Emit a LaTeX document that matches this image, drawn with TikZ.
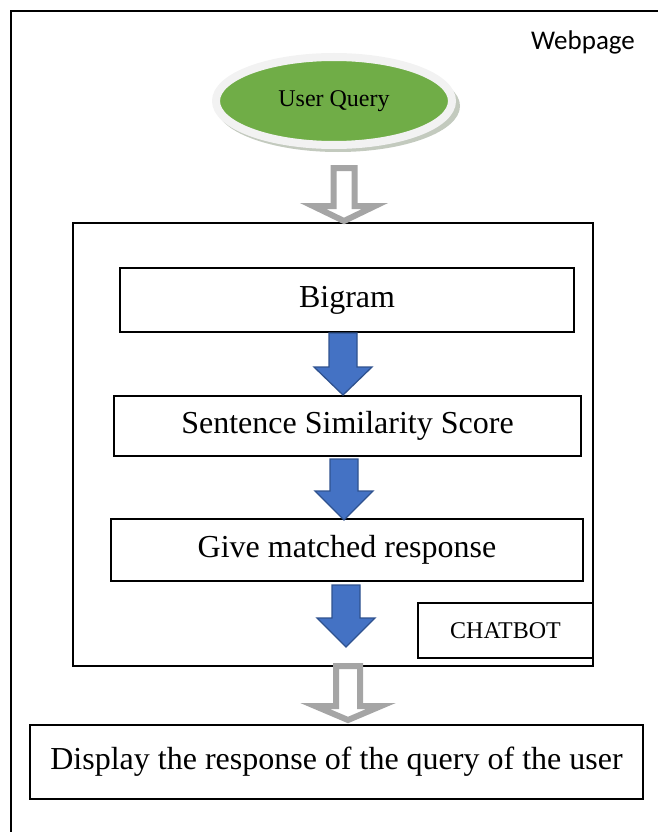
\documentclass[tikz,border=0pt]{standalone}
\usepackage{fontspec}
\setmainfont{Liberation Serif}
\newfontfamily\calibrifont{Carlito}
\usetikzlibrary{shapes.geometric}
\definecolor{qgreen}{HTML}{70AD47}
\definecolor{rimgrey}{HTML}{F2F2F2}
\definecolor{shadowgrey}{HTML}{A9B3A3}
\definecolor{arrowblue}{HTML}{4472C4}
\definecolor{arrowborder}{HTML}{2F528F}
\definecolor{arrowgrey}{HTML}{A5A5A5}
\newcommand\blockdown[7]{\draw[#1] ({#2-#3},#5) -- ({#2+#3},#5) -- ({#2+#3},#6) -- ({#2+#4},#6) -- (#2,#7) -- ({#2-#4},#6) -- ({#2-#3},#6) -- cycle;}
\begin{document}
\begin{tikzpicture}[x=1pt,y=-1pt,
  box/.style={draw, line width=1.8pt, inner sep=0pt, font=\fontsize{32}{38}\selectfont},
  smallbox/.style={draw, line width=1.8pt, inner sep=0pt, font=\fontsize{24}{28}\selectfont},
  bluearrow/.style={fill=arrowblue, draw=arrowborder, line width=1.3pt, line join=miter},
  greyarrow/.style={fill=white, draw=arrowgrey, line width=6pt, line join=miter}]
\useasboundingbox (0,0) rectangle (658,832);
% outer webpage frame
\draw[line width=1.8pt] (11,850) -- (11,11) -- (680,11);
\node[font=\calibrifont\fontsize{27}{32}\selectfont, anchor=base] (web) at (583,50) {Webpage};
% user query ellipse
\fill[shadowgrey, opacity=0.7] (338,106) ellipse [x radius=122pt, y radius=46pt];
\node[ellipse, fill=qgreen, draw=rimgrey, line width=8pt, minimum width=236pt, minimum height=88pt, inner sep=0pt, font=\fontsize{24}{28}\selectfont] (query) at (334,101) {User Query};
% chatbot frame
\node[draw, line width=1.8pt, minimum width=520pt, minimum height=443pt, inner sep=0pt] (chatbot) at (333,444.5) {};
\node[box, minimum width=454pt, minimum height=64pt] (bigram) at (347,300) {Bigram};
\node[box, minimum width=467pt, minimum height=60pt] (sss) at (347.5,426) {Sentence Similarity Score};
\node[box, minimum width=472pt, minimum height=62pt] (gmr) at (347,550) {Give matched response};
\node[smallbox, minimum width=175pt, minimum height=55pt] (cblabel) at (505.5,630.5) {CHATBOT};
\node[box, minimum width=613pt, minimum height=74pt] (display) at (336.5,762) {Display the response of the query of the user};
% arrows
\blockdown{greyarrow}{344}{10.5}{31}{168}{206}{221}
\blockdown{bluearrow}{343}{14}{29}{333}{367}{395}
\blockdown{bluearrow}{344}{14}{29}{459}{491}{520}
\blockdown{bluearrow}{346}{14}{29}{585}{618}{647}
\blockdown{greyarrow}{348}{12}{33}{666}{706}{720}
\end{tikzpicture}
\end{document}
